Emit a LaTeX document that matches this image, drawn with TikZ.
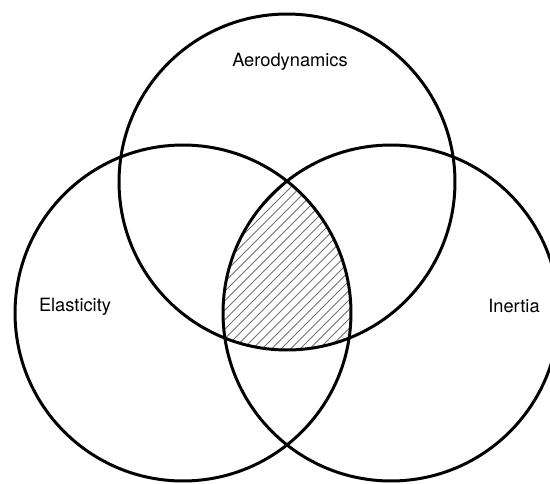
\documentclass[tikz,border=0pt]{standalone}
\usepackage{fontspec}
\setmainfont{TeX Gyre Heros}
\begin{document}
\begin{tikzpicture}[x=0.02cm,y=-0.02cm,
  ring/.style={line width=1.7pt,black},
  hatch/.style={line width=0.5pt,black!55},
  lbl/.style={font=\fontsize{10.4}{12}\selectfont,inner sep=0pt}]
\useasboundingbox (0,0) rectangle (550,483);
\clip (0,0) rectangle (550,483);
\coordinate (cT) at (287,182);
\coordinate (cL) at (183,313);
\coordinate (cR) at (391,313);
\begin{scope}
  \clip (cT) circle (3.36cm);
  \clip (cL) circle (3.36cm);
  \clip (cR) circle (3.36cm);
  \foreach \k in {0,...,60} {
    \draw[hatch] (-100+9.5*\k,483) -- (383+9.5*\k,0);
  }
\end{scope}
\draw[ring] (cT) circle (3.36cm);
\draw[ring] (cL) circle (3.36cm);
\draw[ring] (cR) circle (3.36cm);
\node[lbl] (aero) at (290,62) {Aerodynamics};
\node[lbl] (elas) at (75,307) {Elasticity};
\node[lbl] (iner) at (514,306) {Inertia};
\end{tikzpicture}
\end{document}
